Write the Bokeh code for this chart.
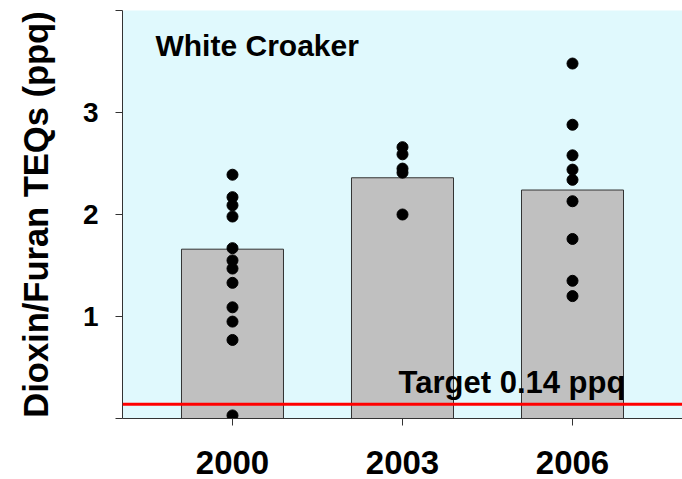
from bokeh.plotting import figure
from bokeh.models import Range1d, FixedTicker, Span, Label, ColumnDataSource
from bokeh.embed import file_html
from bokeh.resources import INLINE

# ---- data ----
years = ["2000", "2003", "2006"]
means = [1.66, 2.36, 2.24]
pts_2000 = [2.39, 2.17, 2.09, 1.98, 1.67, 1.55, 1.47, 1.33, 1.09, 0.95, 0.77, 0.03]
pts_2003 = [2.66, 2.59, 2.45, 2.41, 2.00]
pts_2006 = [3.48, 2.88, 2.58, 2.44, 2.34, 2.13, 1.76, 1.35, 1.20]
target = 0.14
y_ticks = [1, 2, 3]
y_minor = [0, 4]

FONT = "Liberation Sans"

xpos = list(range(len(years)))
groups = [pts_2000, pts_2003, pts_2006]
dx, dy = [], []
for i, g in enumerate(groups):
    dx += [xpos[i]] * len(g)
    dy += g

bars = ColumnDataSource(dict(x=xpos, top=means))
dots = ColumnDataSource(dict(x=dx, y=dy))

p = figure(width=682, height=479, output_backend="svg", toolbar_location=None,
           x_range=Range1d(-0.647, 2.647), y_range=Range1d(0, 4),
           min_border_left=122, min_border_right=0, min_border_top=10, min_border_bottom=61)

p.background_fill_color = "#e0f9fd"
p.border_fill_color = "white"
p.outline_line_color = None
p.xgrid.grid_line_color = None
p.ygrid.grid_line_color = None

p.vbar(x="x", top="top", width=0.6, bottom=0, source=bars,
       fill_color="#c0c0c0", line_color="#333333", line_width=1)
p.add_layout(Span(location=target, dimension="width", line_color="#ff0000", line_width=3))
p.scatter(x="x", y="y", source=dots, size=11, color="black")

# y axis
ya = p.yaxis[0]
ya.ticker = FixedTicker(ticks=y_ticks, minor_ticks=y_minor)
ya.axis_line_color = "#333333"
ya.major_tick_line_color = "#333333"
ya.minor_tick_line_color = "#333333"
ya.major_tick_out = 7
ya.major_tick_in = 0
ya.minor_tick_out = 7
ya.minor_tick_in = 0
ya.major_label_text_font = FONT
ya.major_label_text_font_style = "bold"
ya.major_label_text_font_size = "28px"
ya.major_label_text_color = "black"
ya.major_label_standoff = 17
ya.axis_label = "Dioxin/Furan TEQs (ppq)"
ya.axis_label_text_font = FONT
ya.axis_label_text_font_style = "bold"
ya.axis_label_text_font_size = "34.5px"
ya.axis_label_text_color = "black"
ya.axis_label_standoff = 25

# x axis
xa = p.xaxis[0]
xa.ticker = FixedTicker(ticks=xpos)
xa.major_label_overrides = {xpos[i]: years[i] for i in range(len(years))}
xa.axis_line_color = "#333333"
xa.major_tick_line_color = "#333333"
xa.major_tick_out = 7
xa.major_tick_in = 0
xa.minor_tick_line_color = None
xa.major_label_text_font = FONT
xa.major_label_text_font_style = "bold"
xa.major_label_text_font_size = "33px"
xa.major_label_text_color = "black"
xa.major_label_standoff = 25

p.add_layout(Label(x=-0.453, y=3.66, text="White Croaker", text_baseline="alphabetic",
                   text_font=FONT, text_font_style="bold", text_font_size="30px", text_color="black"))
p.add_layout(Label(x=0.977, y=0.355, text="Target 0.14 ppq", text_baseline="alphabetic",
                   text_font=FONT, text_font_style="bold", text_font_size="31px", text_color="black"))

open("out.html", "w").write(file_html(p, INLINE))
